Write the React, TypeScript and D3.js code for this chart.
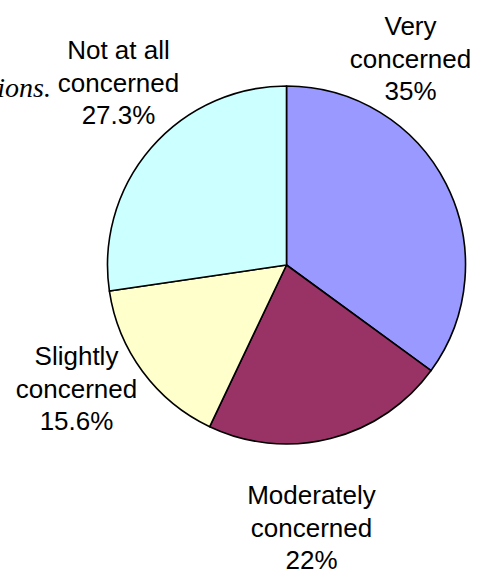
import React from "react";
import * as d3 from "d3";

const categories = ["Very concerned", "Moderately concerned", "Slightly concerned", "Not at all concerned"];
const values = [35, 22, 15.6, 27.3];
const valueLabels = ["35%", "22%", "15.6%", "27.3%"];
const labelLines = [
  ["Very", "concerned"],
  ["Moderately", "concerned"],
  ["Slightly", "concerned"],
  ["Not at all", "concerned"],
];
const colors = ["#9999FF", "#993366", "#FFFFCC", "#CCFFFF"];

// label anchor offsets from pie center (dx, first baseline dy)
const labelOffsets = [
  [124, -230],
  [25, 239],
  [-210, 100],
  [-168, -206],
];

const W = 483;
const H = 574;
const cx = 286.5;
const cy = 265;
const R = 179;
const fontSize = 26;
const lineH = 32.7;

export default function App() {
  const pie = d3.pie<number>().sort(null).startAngle(0).endAngle(2 * Math.PI)(values);
  const arc = d3.arc<d3.PieArcDatum<number>>().innerRadius(0).outerRadius(R);
  return (
    <svg width={W} height={H} style={{ position: "absolute", left: 0, top: 0, background: "#fff" }}>
      <text
        x={51}
        y={97}
        textAnchor="end"
        fontFamily="'Liberation Serif', 'Times New Roman', serif"
        fontStyle="italic"
        fontSize={28}
        fill="#000"
      >
        ions.
      </text>
      <g transform={`translate(${cx},${cy})`}>
        {pie.map((d, i) => (
          <path key={categories[i]} d={arc(d) || ""} fill={colors[i]} stroke="#000" strokeWidth={1.6} strokeLinejoin="round" />
        ))}
      </g>
      {categories.map((c, i) => {
        const [dx, dy] = labelOffsets[i];
        const lines = [...labelLines[i], valueLabels[i]];
        return (
          <text
            key={c}
            textAnchor="middle"
            fontFamily="'Liberation Sans', Arial, sans-serif"
            fontSize={fontSize}
            fill="#000"
          >
            {lines.map((t, j) => (
              <tspan key={j} x={cx + dx} y={cy + dy + j * lineH}>
                {t}
              </tspan>
            ))}
          </text>
        );
      })}
    </svg>
  );
}
